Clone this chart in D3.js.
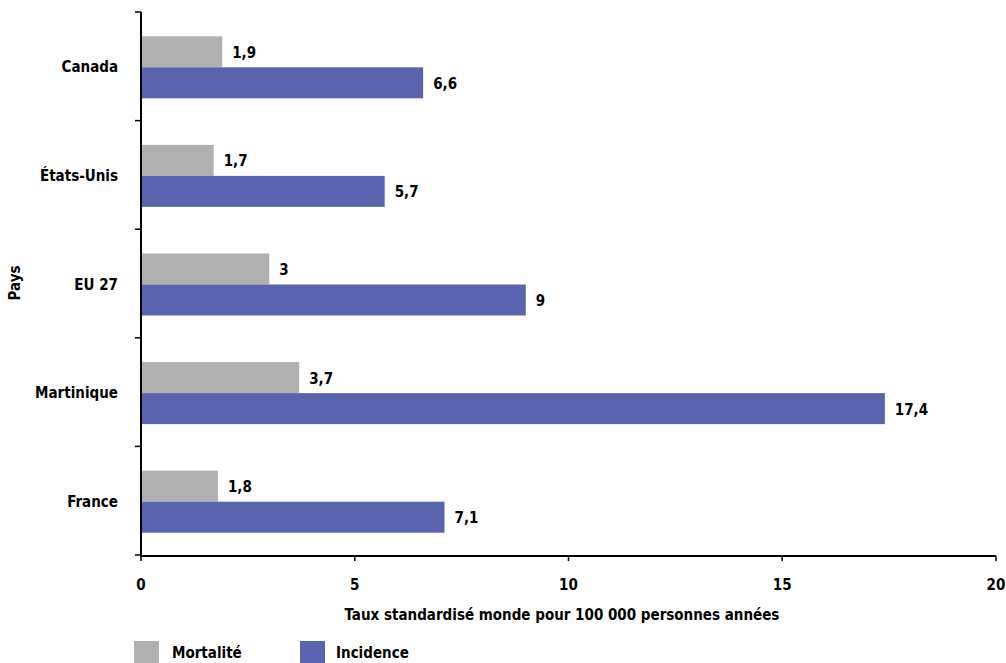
<!DOCTYPE html>
<html><head><meta charset="utf-8">
<script src="https://cdn.jsdelivr.net/npm/d3@7"></script>
<style>body{margin:0;background:#fff}text{font-family:"DejaVu Sans Condensed","DejaVu Sans",sans-serif;font-weight:bold;fill:#000}</style>
</head><body><svg id="c" width="1006" height="663"></svg>
<script>
const categories = ["Canada","États-Unis","EU 27","Martinique","France"];
const mortalite = [1.9,1.7,3,3.7,1.8];
const incidence = [6.6,5.7,9,17.4,7.1];
const seriesNames = ["Mortalité","Incidence"];
const colors = ["#b0b0b0","#5a64ae"];
const xTicks = [0,5,10,15,20];

const svg = d3.select("#c");
const x = d3.scaleLinear().domain([0,20]).range([141,996]);
const y = d3.scaleBand().domain(categories).range([12,555]);
const sub = d3.scaleBand().domain(seriesNames).range([0,62]);
const fmt = v => String(v).replace(".",",");

const g = svg.append("g");
categories.forEach((c,i)=>{
  const vals=[mortalite[i],incidence[i]];
  seriesNames.forEach((s,j)=>{
    const y0=y(c)+(y.bandwidth()-62)/2+sub(s)+1;
    g.append("rect").attr("x",x(0)).attr("y",y0).attr("width",x(vals[j])-x(0)).attr("height",sub.bandwidth()).attr("fill",colors[j]);
    g.append("text").attr("x",x(vals[j])+10).attr("y",y0+sub.bandwidth()/2+6).attr("font-size",15).text(fmt(vals[j]));
  });
});

// y axis
const ya = svg.append("g").attr("transform",`translate(${x(0)},0)`);
ya.append("line").attr("y1",12).attr("y2",556).attr("stroke","#000").attr("stroke-width",2);
d3.range(6).forEach(k=>{
  const yy=12+k*y.step();
  ya.append("line").attr("x1",-6).attr("x2",0).attr("y1",yy).attr("y2",yy).attr("stroke","#000").attr("stroke-width",1.5);
});
categories.forEach(c=>{
  ya.append("text").attr("x",-23).attr("y",y(c)+y.bandwidth()/2+6).attr("text-anchor","end").attr("font-size",15).text(c);
});
// x axis
const xa = svg.append("g").attr("transform","translate(0,556)");
xa.append("line").attr("x1",x(0)-1).attr("x2",x(20)).attr("stroke","#000").attr("stroke-width",2);
xTicks.forEach(t=>{
  xa.append("line").attr("x1",x(t)).attr("x2",x(t)).attr("y1",0).attr("y2",5).attr("stroke","#000").attr("stroke-width",1.5);
  xa.append("text").attr("x",x(t)).attr("y",34).attr("text-anchor","middle").attr("font-size",15).text(t);
});
svg.append("text").attr("x",562).attr("y",620).attr("text-anchor","middle").attr("font-size",15).text("Taux standardisé monde pour 100 000 personnes années");
svg.append("text").attr("transform","translate(20,283) rotate(-90)").attr("text-anchor","middle").attr("font-size",15).text("Pays");
// legend
const leg=[{n:"Mortalité",x:134,tx:172},{n:"Incidence",x:300,tx:336}];
leg.forEach((l,i)=>{
  svg.append("rect").attr("x",l.x).attr("y",641).attr("width",25).attr("height",22).attr("fill",colors[i]);
  svg.append("text").attr("x",l.tx).attr("y",658).attr("font-size",15).text(l.n);
});
</script></body></html>
